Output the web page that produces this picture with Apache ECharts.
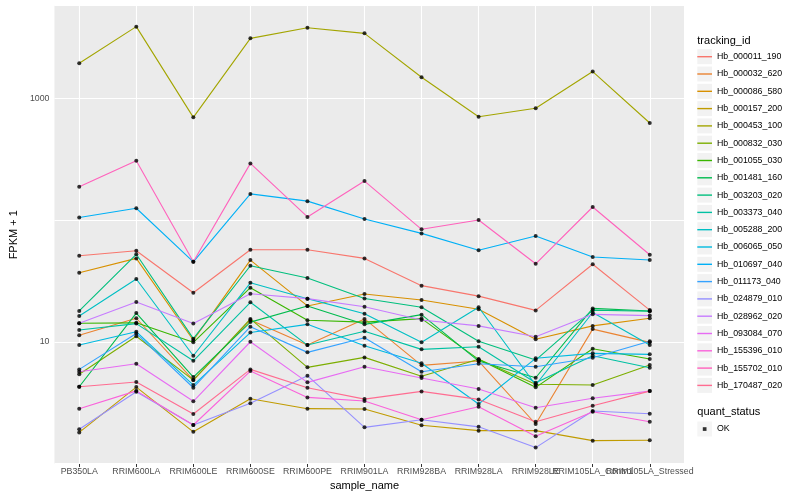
<!DOCTYPE html>
<html>
<head>
<meta charset="utf-8">
<script src="https://cdn.jsdelivr.net/npm/echarts@6/dist/echarts.min.js"></script>
<style>html,body{margin:0;padding:0;background:#fff}#c{width:800px;height:500px}</style>
</head>
<body>
<div id="c"></div>
<script>
const categories = ['PB350LA','RRIM600LA','RRIM600LE','RRIM600SE','RRIM600PE','RRIM901LA','RRIM928BA','RRIM928LA','RRIM928LE','RRIM105LA_Control','RRIM105LA_Stressed'];

const Hb_000011_190 = [50.9, 55.9, 25.3, 57.0, 57.0, 48.4, 28.9, 23.7, 18.1, 43.3, 18.2];
const Hb_000032_620 = [11.3, 15.6, 4.84, 15.1, 9.39, 15.4, 6.40, 6.94, 2.11, 12.7, 9.89];
const Hb_000086_580 = [36.9, 48.4, 10.3, 46.9, 19.7, 24.7, 22.0, 18.5, 10.5, 13.5, 15.6];
const Hb_000157_200 = [1.80, 4.24, 1.82, 3.40, 2.82, 2.80, 2.06, 1.86, 1.86, 1.54, 1.55];
const Hb_000453_100 = [1940, 3880, 698, 3110, 3800, 3420, 1490, 706, 828, 1660, 627];
const Hb_000832_030 = [5.40, 11.1, 4.84, 15.4, 6.16, 7.44, 5.20, 7.17, 4.47, 4.41, 6.43];
const Hb_001055_030 = [14.2, 14.3, 9.89, 27.8, 15.0, 14.5, 15.5, 7.17, 4.22, 8.76, 7.21];
const Hb_001481_160 = [4.27, 17.2, 5.13, 14.5, 19.7, 13.9, 16.7, 6.94, 5.06, 18.8, 17.9];
const Hb_003203_020 = [17.9, 52.3, 10.6, 42.1, 33.4, 22.7, 19.2, 10.1, 7.07, 18.2, 17.8];
const Hb_003373_040 = [12.5, 14.1, 6.98, 21.1, 9.39, 12.2, 8.66, 9.10, 4.60, 7.67, 6.11];
const Hb_005288_200 = [16.3, 32.8, 7.67, 30.5, 22.6, 17.0, 9.89, 19.2, 4.41, 17.4, 9.39];
const Hb_006065_050 = [9.39, 12.1, 4.41, 11.9, 13.9, 9.27, 6.65, 3.08, 7.31, 8.03, 7.88];
const Hb_010697_040 = [105, 125, 45.4, 164, 143, 102, 77.7, 56.4, 73.9, 49.7, 46.9];
const Hb_011173_040 = [5.93, 11.7, 4.19, 13.3, 8.18, 10.8, 5.67, 6.60, 6.23, 7.39, 10.1];
const Hb_024879_010 = [1.91, 3.88, 2.07, 3.12, 5.26, 1.98, 2.29, 2.00, 1.35, 2.70, 2.56];
const Hb_028962_020 = [14.2, 21.2, 14.1, 24.8, 22.6, 19.4, 15.1, 13.5, 11.0, 16.8, 16.4];
const Hb_093084_070 = [5.67, 6.60, 3.24, 10.0, 4.64, 6.23, 5.03, 4.09, 2.87, 3.43, 3.93];
const Hb_155396_010 = [2.82, 3.95, 2.07, 5.74, 3.49, 3.26, 2.29, 2.92, 1.67, 2.66, 2.20];
const Hb_155702_010 = [188, 307, 45.4, 292, 106, 209, 83.9, 100, 43.7, 128, 51.9];
const Hb_170487_020 = [4.27, 4.67, 2.55, 5.93, 4.19, 3.38, 3.91, 3.36, 2.20, 2.98, 3.93];

const seriesNames = ['Hb_000011_190','Hb_000032_620','Hb_000086_580','Hb_000157_200','Hb_000453_100','Hb_000832_030','Hb_001055_030','Hb_001481_160','Hb_003203_020','Hb_003373_040','Hb_005288_200','Hb_006065_050','Hb_010697_040','Hb_011173_040','Hb_024879_010','Hb_028962_020','Hb_093084_070','Hb_155396_010','Hb_155702_010','Hb_170487_020'];
const seriesValues = [Hb_000011_190,Hb_000032_620,Hb_000086_580,Hb_000157_200,Hb_000453_100,Hb_000832_030,Hb_001055_030,Hb_001481_160,Hb_003203_020,Hb_003373_040,Hb_005288_200,Hb_006065_050,Hb_010697_040,Hb_011173_040,Hb_024879_010,Hb_028962_020,Hb_093084_070,Hb_155396_010,Hb_155702_010,Hb_170487_020];
const seriesColors = ['#F8766D','#EA8331','#D89000','#C09B00','#A3A500','#7CAE00','#39B600','#00BB4E','#00BF7D','#00C1A3','#00BFC4','#00BAE0','#00B0F6','#35A2FF','#9590FF','#C77CFF','#E76BF3','#FA62DB','#FF62BC','#FF6C91'];
const statusName = 'OK';

const FONT = '"Liberation Sans", Arial, Helvetica, sans-serif';

// y-axis limits
const yMin = 0.99;
const yMax = 5790;

const panel = {left: 45, right: 116, top: 5.5, bottom: 36};
// category centres sit 0.6 steps inside the panel (ggplot discrete expansion)
const panelW = 800 - panel.left - panel.right;
const step = panelW / (categories.length - 1 + 1.2);
const inner = {left: panel.left + 0.6 * step, right: panel.right + 0.6 * step};

const lineSeries = seriesNames.map((n, i) => ({
  name: n, type: 'line', xAxisIndex: 1, yAxisIndex: 1,
  data: seriesValues[i], showSymbol: false, symbol: 'none',
  color: seriesColors[i],
  lineStyle: {width: 1.1, color: seriesColors[i]},
  emphasis: {disabled: true}, animation: false, z: 2
}));

const pointData = [];
seriesValues.forEach(vals => vals.forEach((v, j) => pointData.push([categories[j], v])));

const keyLine = 'path://M0,0M0,6.8L14.7,6.8L14.7,8.2L0,8.2ZM14.7,15';
const keyDot = 'path://M0,0M5.5,5.7L9.2,5.7L9.2,9.4L5.5,9.4ZM14.7,15';
const legendCommon = {orient: 'vertical', left: 697.3, padding: 0, itemWidth: 14.7, itemHeight: 15, itemGap: 2.3, selectedMode: false,
  textStyle: {fontSize: 8.8, color: '#000', fontFamily: FONT, padding: [0,0,0,0]}};

const option = {
  animation: false,
  backgroundColor: '#fff',
  title: [
    {text: 'tracking_id', left: 697.3, top: 35, padding: 0, textStyle: {fontSize: 11, fontWeight: 'normal', color: '#000', fontFamily: FONT}},
    {text: 'quant_status', left: 697.3, top: 406.8, padding: 0, textStyle: {fontSize: 11, fontWeight: 'normal', color: '#000', fontFamily: FONT}}
  ],
  legend: [
    Object.assign({}, legendCommon, {data: seriesNames, top: 49.2, icon: 'rect', itemStyle: {color: '#F2F2F2', borderWidth: 0}, textStyle: Object.assign({}, legendCommon.textStyle, {color: 'rgba(0,0,0,0)'}), z: 3}),
    Object.assign({}, legendCommon, {data: seriesNames.map((n, i) => ({name: n, itemStyle: {color: seriesColors[i], borderWidth: 0}})), top: 49.2, icon: keyLine, z: 4}),
    Object.assign({}, legendCommon, {data: [statusName], top: 421.5, icon: 'rect', itemStyle: {color: '#F2F2F2', borderWidth: 0}, textStyle: Object.assign({}, legendCommon.textStyle, {color: 'rgba(0,0,0,0)'}), z: 3}),
    Object.assign({}, legendCommon, {data: [statusName], top: 421.5, icon: keyDot, itemStyle: {color: '#000', borderWidth: 0}, z: 4})
  ],
  grid: [
    {left: panel.left, right: panel.right, top: panel.top, bottom: panel.bottom, show: true, backgroundColor: '#EBEBEB', borderWidth: 0, containLabel: false},
    {left: inner.left, right: inner.right, top: panel.top, bottom: panel.bottom, show: false, containLabel: false}
  ],
  xAxis: [
    {type: 'value', gridIndex: 0, show: false, min: 0, max: 1},
    {type: 'category', gridIndex: 1, data: categories, boundaryGap: false,
      axisLine: {show: false},
      axisTick: {show: true, length: 3, lineStyle: {color: '#333', width: 1}},
      axisLabel: {interval: 0, margin: 3, fontSize: 8.8, color: '#4D4D4D', fontFamily: FONT, hideOverlap: false},
      splitLine: {show: true, lineStyle: {color: '#fff', width: 1.1}},
      name: 'sample_name', nameLocation: 'middle', nameGap: 16,
      nameTextStyle: {fontSize: 11, color: '#000', fontFamily: FONT}}
  ],
  yAxis: [
    {type: 'log', logBase: 10, gridIndex: 0, min: yMin, max: yMax,
      axisLine: {show: false}, axisTick: {show: false},
      axisLabel: {margin: 5, fontSize: 8.8, color: '#4D4D4D', fontFamily: FONT, showMinLabel: false, showMaxLabel: false,
        formatter: function (v) {
          const l = Math.log10(v), r = Math.round(l);
          if (Math.abs(l - r) < 1e-6 && (r === 1 || r === 3)) return String(Math.round(v));
          return '';
        }},
      splitLine: {show: true, lineStyle: {color: '#fff', width: 1.1}},
      name: 'FPKM + 1', nameLocation: 'middle', nameGap: 27, nameRotate: 90,
      nameTextStyle: {fontSize: 11, color: '#000', fontFamily: FONT}},
    {type: 'log', logBase: 10, gridIndex: 1, min: yMin, max: yMax, show: false, splitLine: {show: false}}
  ],
  series: lineSeries.concat([{
    name: statusName, type: 'scatter', xAxisIndex: 1, yAxisIndex: 1,
    data: pointData, symbol: 'circle', symbolSize: 4,
    itemStyle: {color: '#000'}, emphasis: {disabled: true}, animation: false, z: 5
  }])
};

const chart = echarts.init(document.getElementById('c'), null, {renderer: 'canvas'});
chart.setOption(option);
</script>
</body>
</html>
